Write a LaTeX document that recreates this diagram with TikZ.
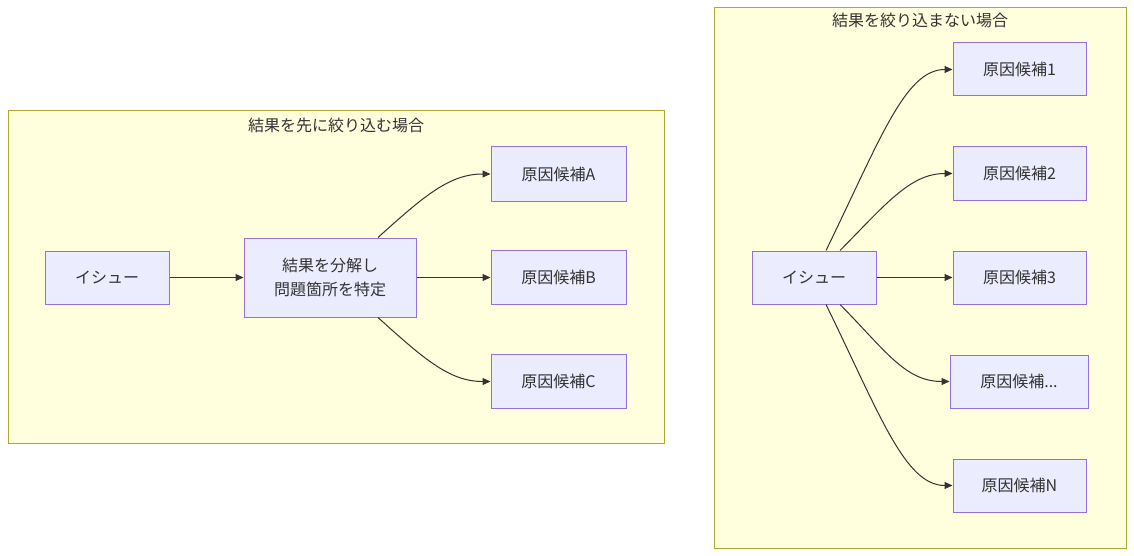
\documentclass[tikz,border=0pt]{standalone}
\usepackage{fontspec}
\setmainfont{Noto Sans CJK JP}
\usetikzlibrary{arrows.meta}
\definecolor{clfill}{HTML}{FFFFDE}
\definecolor{cldraw}{HTML}{AAAA33}
\definecolor{ndfill}{HTML}{ECECFF}
\definecolor{nddraw}{HTML}{9370DB}
\definecolor{edge}{HTML}{333333}
\definecolor{txt}{HTML}{333333}
\tikzset{
  cluster/.style={fill=clfill, draw=cldraw, line width=1pt},
  box/.style={rectangle, fill=ndfill, draw=nddraw, line width=1pt, text=txt,
    font=\fontsize{16}{24}\selectfont, align=center, inner sep=0pt,
    minimum width=#1, minimum height=53pt},
  box/.default=134pt,
  ttl/.style={text=txt, font=\fontsize{16}{20}\selectfont, inner sep=0pt},
  conn/.style={draw=edge, line width=1pt, -{Triangle[length=8pt,width=7pt]}}
}
\begin{document}
\begin{tikzpicture}[x=1pt,y=-1pt]
\useasboundingbox (0,0) rectangle (1134,556);
% clusters
\draw[cluster] (8,111) rectangle (664,443);
\node[ttl] (tL) at (336,125) {結果を先に絞り込む場合};
\draw[cluster] (714,8) rectangle (1126,548);
\node[ttl] (tR) at (920,20) {結果を絞り込まない場合};
% left nodes
\node[box=124pt] (issueL) at (107,277.5) {イシュー};
\node[box=172pt, minimum height=79pt] (dec) at (330,277.5) {結果を分解し\\問題箇所を特定};
\node[box=135pt, minimum height=54pt] (A) at (558.5,174) {原因候補A};
\node[box=135pt, minimum height=54pt] (B) at (558.5,277.5) {原因候補B};
\node[box=135pt, minimum height=54pt] (C) at (558.5,381.5) {原因候補C};
% right nodes
\node[box=124pt] (issueR) at (814,277.5) {イシュー};
\node[box=133pt] (R1) at (1019.5,69.5) {原因候補1};
\node[box=133pt] (R2) at (1019.5,173.5) {原因候補2};
\node[box=133pt] (R3) at (1019.5,277.5) {原因候補3};
\node[box=138pt] (Rd) at (1019,381.5) {原因候補...};
\node[box=133pt] (RN) at (1019.5,485.5) {原因候補N};
% left edges
\draw[conn] (issueL.east) -- (dec.west);
\draw[conn] (dec.east) -- (B.west);
\draw[conn] ([xshift=48pt]dec.north) .. controls (425,195) and (450,174) .. (A.west);
\draw[conn] ([xshift=48pt]dec.south) .. controls (425,360) and (450,381.5) .. (C.west);
% right edges
\draw[conn] (issueR.east) -- (R3.west);
\draw[conn] ([xshift=12pt]issueR.north) .. controls (880,140) and (905,69.5) .. (R1.west);
\draw[conn] ([xshift=26pt]issueR.north) .. controls (885,205) and (910,173.5) .. (R2.west);
\draw[conn] ([xshift=26pt]issueR.south) .. controls (885,350) and (905,381.5) .. (Rd.west);
\draw[conn] ([xshift=12pt]issueR.south) .. controls (880,415) and (905,485.5) .. (RN.west);
\end{tikzpicture}
\end{document}
